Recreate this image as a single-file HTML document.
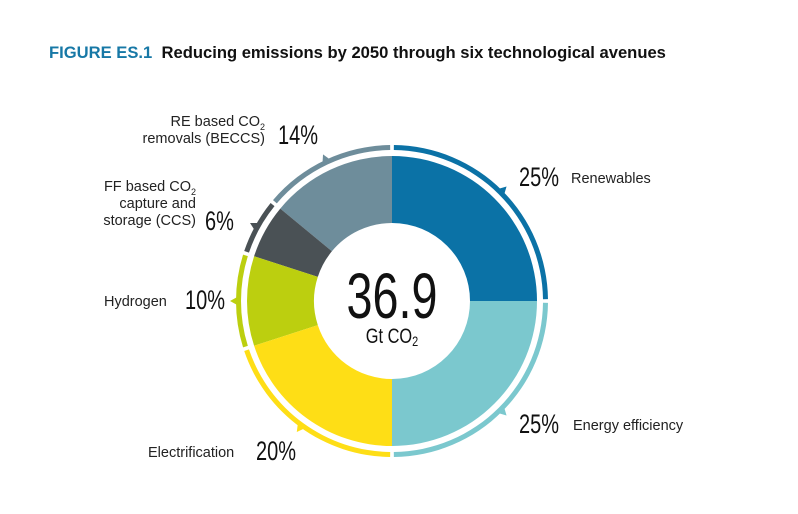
<!DOCTYPE html>
<html><head><meta charset="utf-8"><style>
body{margin:0;background:#fff;width:798px;height:514px;overflow:hidden;font-family:"Liberation Sans",sans-serif}
.t{position:absolute;font-size:14.5px;color:#222;white-space:nowrap;line-height:17px}
.p{position:absolute;font-size:27px;color:#111;line-height:27px;transform:scaleX(0.74);transform-origin:0 0;white-space:nowrap}
.r{text-align:right}
</style></head><body>
<div style="position:absolute;left:49px;top:43px;font-size:16.6px;font-weight:bold;color:#111;white-space:nowrap"><span style="color:#1778a6">FIGURE ES.1</span>&nbsp; Reducing emissions by 2050 through six technological avenues</div>
<svg id="c" width="798" height="514" style="position:absolute;left:0;top:0">
<text x="392" y="318" text-anchor="middle" transform="translate(392,0) scale(0.73,1) translate(-392,0)" font-family="Liberation Sans, sans-serif" font-size="64" fill="#111">36.9</text>
<text x="392" y="343" text-anchor="middle" transform="translate(392,0) scale(0.78,1) translate(-392,0)" font-family="Liberation Sans, sans-serif" font-size="21" fill="#111">Gt CO<tspan font-size="14" dy="3">2</tspan></text>
</svg>
<div class="p" style="left:519px;top:164px">25%</div>
<div class="t" style="left:571px;top:171px">Renewables</div>
<div class="p" style="left:519px;top:411px">25%</div>
<div class="t" style="left:573px;top:418px">Energy efficiency</div>
<div class="t" style="left:148px;top:445px">Electrification</div>
<div class="p" style="left:256px;top:438px">20%</div>
<div class="t" style="left:104px;top:294px">Hydrogen</div>
<div class="p" style="left:185px;top:287px">10%</div>
<div class="t r" style="right:602px;top:179px">FF based CO<sub style="font-size:9px;line-height:0">2</sub><br>capture and<br>storage (CCS)</div>
<div class="p" style="left:205px;top:208px">6%</div>
<div class="t r" style="right:533px;top:114px">RE based CO<sub style="font-size:9px;line-height:0">2</sub><br>removals (BECCS)</div>
<div class="p" style="left:278px;top:122px">14%</div>
<script>
const categories=["Renewables","Energy efficiency","Electrification","Hydrogen","CCS","BECCS"];
const shares=[25,25,20,10,6,14];
const colors=["#0b72a6","#7bc8ce","#fede16","#bccf0f","#4a5155","#6e8d9b"];
const svg=document.getElementById('c');
const NS="http://www.w3.org/2000/svg";
const cx=392,cy=301,r0=78,r1=145,q0=151,q1=156;
const total=shares.reduce((a,b)=>a+b,0);
function pt(r,a){return [cx+r*Math.sin(a),cy-r*Math.cos(a)];}
function arc(ri,ro,a0,a1){const l=a1-a0>Math.PI?1:0;const[p1,p2]=[pt(ro,a0),pt(ro,a1)],[p3,p4]=[pt(ri,a1),pt(ri,a0)];
return `M${p1}L${p1}A${ro},${ro} 0 ${l} 1 ${p2}L${p3}A${ri},${ri} 0 ${l} 0 ${p4}Z`;}
let acc=0;
shares.forEach((v,i)=>{
 const a0=acc/total*2*Math.PI,a1=(acc+v)/total*2*Math.PI;acc+=v;
 const s=document.createElementNS(NS,'path');
 s.setAttribute('d',arc(r0,r1,a0,a1));s.setAttribute('fill',colors[i]);
 
 
 svg.insertBefore(s,svg.firstChild);
 const g=0.012;
 const o=document.createElementNS(NS,'path');
 o.setAttribute('d',arc(q0,q1,a0+g,a1-g));o.setAttribute('fill',colors[i]);
 
 
 svg.insertBefore(o,svg.firstChild);
 const m=(a0+a1)/2,d=0.025;
 const t=document.createElementNS(NS,'polygon');
 t.setAttribute('points',[pt(q1-1,m-d),pt(q1+6,m),pt(q1-1,m+d)].join(' '));
 t.setAttribute('fill',colors[i]);
 
 
 svg.insertBefore(t,svg.firstChild);
});
</script>
</body></html>
